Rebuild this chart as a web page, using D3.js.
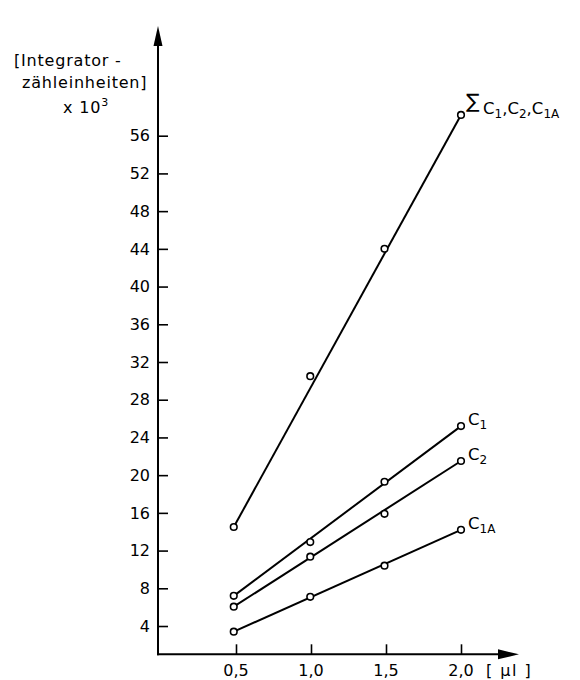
<!DOCTYPE html>
<html>
<head>
<meta charset="utf-8">
<script src="https://cdn.jsdelivr.net/npm/d3@7"></script>
<style>
  body { margin: 0; background: #fff; }
  svg { display: block; font-family: "DejaVu Sans", sans-serif; }
</style>
</head>
<body>
<svg width="580" height="680"></svg>
<script>
// dose volumes in µl (as placed on the original drawing)
var dose = [0.485, 0.995, 1.49, 2.0];
var xTicks = [0.5, 1.0, 1.5, 2.0];
var yTicks = [4, 8, 12, 16, 20, 24, 28, 32, 36, 40, 44, 48, 52, 56];

// integrator counts x 10^3
var sumC = [14.5, 30.5, 44.0, 58.2];
var c1 = [7.2, 12.9, 19.3, 25.2];
var c2 = [6.05, 11.35, 15.9, 21.5];
var c1a = [3.4, 7.1, 10.4, 14.2];

var svg = d3.select("svg");

var xScale = d3.scaleLinear()
	.domain([0, 2])
	.range([161, 461]);

var yScale = d3.scaleLinear()
	.domain([1, 56])
	.range([654.3, 135.7]);

var x0 = 158, y0 = yScale(1);

// axes lines with arrows
svg.append("line")
	.attr("x1", x0).attr("y1", y0 + 1)
	.attr("x2", x0).attr("y2", 34)
	.attr("stroke", "#000").attr("stroke-width", 2);
svg.append("path")
	.attr("d", "M" + x0 + ",26L" + (x0 - 4.5) + ",46L" + (x0 + 4.5) + ",46Z")
	.attr("fill", "#000");

svg.append("line")
	.attr("x1", x0 - 1).attr("y1", y0)
	.attr("x2", 505).attr("y2", y0)
	.attr("stroke", "#000").attr("stroke-width", 2);
svg.append("path")
	.attr("d", "M519," + y0 + "L498," + (y0 - 5) + "L498," + (y0 + 5) + "Z")
	.attr("fill", "#000");

// y ticks (pointing inwards)
var yAxis = d3.axisRight(yScale)
	.tickValues(yTicks)
	.tickSize(10)
	.tickFormat("");
var gy = svg.append("g")
	.attr("transform", "translate(" + x0 + ",0)")
	.call(yAxis);
gy.select(".domain").remove();
gy.selectAll(".tick line").attr("stroke", "#000").attr("stroke-width", 1.6);

svg.selectAll(".ylab")
	.data(yTicks)
	.enter()
	.append("text")
	.attr("class", "ylab")
	.attr("x", 150)
	.attr("y", function(d) { return yScale(d); })
	.attr("dy", "0.36em")
	.attr("text-anchor", "end")
	.attr("font-size", 16)
	.attr("fill", "#000")
	.text(function(d) { return d; });

// x ticks (pointing up)
var xAxis = d3.axisTop(xScale)
	.tickValues(xTicks)
	.tickSize(10)
	.tickFormat("");
var gx = svg.append("g")
	.attr("transform", "translate(0," + y0 + ")")
	.call(xAxis);
gx.select(".domain").remove();
gx.selectAll(".tick line").attr("stroke", "#000").attr("stroke-width", 1.6);

svg.selectAll(".xlab")
	.data(xTicks)
	.enter()
	.append("text")
	.attr("class", "xlab")
	.attr("x", function(d) { return xScale(d); })
	.attr("y", 676)
	.attr("text-anchor", "middle")
	.attr("font-size", 16)
	.attr("fill", "#000")
	.text(function(d) { return d.toFixed(1).replace(".", ","); });

svg.append("text")
	.attr("x", 486).attr("y", 676)
	.attr("font-size", 16)
	.attr("letter-spacing", 1.5)
	.attr("fill", "#000")
	.text("[ µl ]");

// y axis title
var title = svg.append("g")
	.attr("font-size", 16)
	.attr("letter-spacing", 0.8)
	.attr("fill", "#000");
title.append("text").attr("x", 14).attr("y", 66).text("[Integrator -");
title.append("text").attr("x", 22).attr("y", 88).text("zähleinheiten]");
var t3 = title.append("text").attr("x", 63).attr("y", 113);
t3.append("tspan").text("x 10");
t3.append("tspan").attr("dy", -7).attr("font-size", 11).text("3");

// series
var series = [
	{ name: "sum", values: sumC },
	{ name: "c1", values: c1 },
	{ name: "c2", values: c2 },
	{ name: "c1a", values: c1a }
];

var plot = svg.append("g");

series.forEach(function(s) {
	var n = s.values.length - 1;
	plot.append("line")
		.attr("x1", xScale(dose[0])).attr("y1", yScale(s.values[0]))
		.attr("x2", xScale(dose[n])).attr("y2", yScale(s.values[n]))
		.attr("stroke", "#000")
		.attr("stroke-width", 2);
	plot.selectAll(".pt-" + s.name)
		.data(s.values)
		.enter()
		.append("circle")
		.attr("class", "pt-" + s.name)
		.attr("cx", function(d, i) { return xScale(dose[i]); })
		.attr("cy", function(d) { return yScale(d); })
		.attr("r", 3.3)
		.attr("fill", "#fff")
		.attr("stroke", "#000")
		.attr("stroke-width", 1.6);
});

// series labels
function cLabel(x, y, sub) {
	var t = svg.append("text")
		.attr("x", x).attr("y", y)
		.attr("font-size", 16.5)
		.attr("fill", "#000");
	t.append("tspan").text("C");
	t.append("tspan").attr("dy", 4).attr("font-size", 12).text(sub);
	return t;
}

var lx = xScale(dose[3]) + 7;
cLabel(lx, yScale(c1[3]) - 1, "1");
cLabel(lx, yScale(c2[3]) - 1, "2");
cLabel(lx, yScale(c1a[3]) - 1, "1A");

svg.append("text")
	.attr("x", lx - 2).attr("y", yScale(sumC[3]) - 7)
	.attr("font-size", 20)
	.attr("fill", "#000")
	.text("\u2211");

var st = svg.append("text")
	.attr("x", lx + 15).attr("y", yScale(sumC[3]) - 1)
	.attr("font-size", 16.5)
	.attr("fill", "#000");
st.append("tspan").text("C");
st.append("tspan").attr("dy", 4).attr("font-size", 12).text("1");
st.append("tspan").attr("dy", -4).text(",C");
st.append("tspan").attr("dy", 4).attr("font-size", 12).text("2");
st.append("tspan").attr("dy", -4).text(",C");
st.append("tspan").attr("dy", 4).attr("font-size", 12).text("1A");
</script>
</body>
</html>
